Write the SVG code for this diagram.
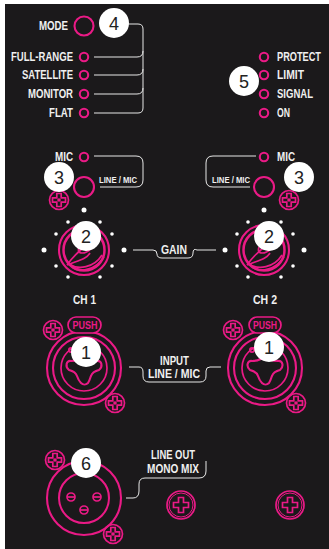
<svg xmlns="http://www.w3.org/2000/svg" xmlns:xlink="http://www.w3.org/1999/xlink" width="329" height="549" viewBox="0 0 329 549">
<style>
.p{fill:none;stroke:#ea1a86;stroke-width:1.7}
.pt{fill:none;stroke:#ea1a86;stroke-width:2.1}
.c{fill:none;stroke:#e8e8e8;stroke-width:1}
.l{font-family:"Liberation Sans",Arial,sans-serif;font-weight:700;font-size:12.5px;fill:#f0f0f0}
.s{font-size:9px}
.bg{fill:#fff}
.n{font-family:"Liberation Sans",Arial,sans-serif;font-size:18px;fill:#222;text-anchor:middle}
.push{font-family:"Liberation Sans",Arial,sans-serif;font-weight:700;font-size:11px;fill:#ea1a86}
.d{fill:#fff}
</style>
<defs>
<g id="screw"><circle r="9.5" class="p"/><path class="p" d="M-2.2-6.5h4.4v4.3h4.3v4.4h-4.3v4.3h-4.4v-4.3h-4.3v-4.4h4.3z"/><circle r="1.8" fill="#ea1a86"/></g>
<g id="bigscrew"><circle r="14" class="p"/><circle r="12" class="p" style="stroke-width:1"/><path class="p" d="M-2.5-7.5h5v5h5v5h-5v5h-5v-5h-5v-5h5z"/></g>
<g id="knob"><circle r="25" class="pt"/><circle r="20.5" class="pt" style="stroke-width:2.5"/><path class="p" d="M-17 15C-10 5-2-2 9-10 11-3 4 3-2 3-6 3-6 0-5-3M-17 15C-8 11 2 10 6 3"/><path class="p" d="M-15 14C-6 20 10 18 18 5M-12 17C-4 23 12 20 20 7"/></g>
<g id="combo"><circle r="37" class="pt"/><circle r="31" class="pt"/><circle r="23" class="p"/><circle cx="-13" cy="-18" r="2.2" class="p"/><path class="pt" d="M0-13C-3-9-8-7-13-7-18-8-19-1-15 2-11 3-8 5-7 8-6 11-5 13-3 15-1 17 2 17 4 15 6 12 6 10 7 8 8 5 11 3 15 2 19-1 18-8 13-7 8-7 3-9 0-13Z"/></g>
</defs>
<rect width="329" height="549" fill="#fff"/>
<rect x="5" y="4" width="324" height="545" fill="#1b191b"/>
<g id="connectors">
<path class="c" d="M128 24H138Q143 24 143 29V108Q143 113 138 113H94"/>
<path class="c" d="M94 57H137Q143 57 143 51M94 75H137Q143 75 143 69M94 94H137Q143 94 143 88"/>
<path class="c" d="M94 156H136Q143 156 143 163V180Q143 187 136 187H100"/>
<path class="c" d="M256 156H213Q206 156 206 163V180Q206 187 213 187H250"/>
<path class="c" d="M133 250H153Q157 250 157 254T162 258H188Q193 258 193 253T197 250H216"/>
<path class="c" d="M129 367H139Q143 367 143 372V376Q143 382 149 382H200Q206 382 206 376V371Q206 367 210 367H221"/>
<path class="c" d="M126 498H133Q139 498 139 491V484Q139 478 145 478H199Q206 478 206 471V461"/>
</g>
<g id="mode"><circle cx="84" cy="26" r="9.5" class="pt"/><text x="39" y="30" class="l" textLength="29" lengthAdjust="spacingAndGlyphs">MODE</text></g>
<g id="led-full-range"><circle cx="84" cy="57" r="4.2" class="pt"/><text x="11" y="61" class="l" textLength="62" lengthAdjust="spacingAndGlyphs">FULL-RANGE</text></g>
<g id="led-satellite"><circle cx="84" cy="75" r="4.2" class="pt"/><text x="22" y="79" class="l" textLength="51" lengthAdjust="spacingAndGlyphs">SATELLITE</text></g>
<g id="led-monitor"><circle cx="84" cy="94" r="4.2" class="pt"/><text x="28" y="98" class="l" textLength="45" lengthAdjust="spacingAndGlyphs">MONITOR</text></g>
<g id="led-flat"><circle cx="84" cy="113" r="4.2" class="pt"/><text x="49" y="117" class="l" textLength="24" lengthAdjust="spacingAndGlyphs">FLAT</text></g>
<g id="led-protect"><circle cx="264" cy="57" r="4.2" class="pt"/><text transform="translate(277 61) scale(.737 1)" class="l">PROTECT</text></g>
<g id="led-limit"><circle cx="264" cy="75" r="4.2" class="pt"/><text x="277" y="79" class="l" textLength="27" lengthAdjust="spacingAndGlyphs">LIMIT</text></g>
<g id="led-signal"><circle cx="264" cy="94" r="4.2" class="pt"/><text x="277" y="98" class="l" textLength="36" lengthAdjust="spacingAndGlyphs">SIGNAL</text></g>
<g id="led-on"><circle cx="264" cy="113" r="4.2" class="pt"/><text x="277" y="117" class="l" textLength="13" lengthAdjust="spacingAndGlyphs">ON</text></g>
<g id="badge-5"><circle cx="244" cy="81" r="15" class="bg"/><text x="244" y="87.5" class="n">5</text></g>
<g id="badge-4"><circle cx="114" cy="23" r="15" class="bg"/><text x="114" y="29.5" class="n">4</text></g>
<g id="mic-1"><circle cx="84" cy="157" r="4.2" class="pt"/><text x="55" y="161" class="l" textLength="18" lengthAdjust="spacingAndGlyphs">MIC</text><circle cx="84" cy="187" r="10" class="pt"/><text x="99" y="183" class="l s" textLength="38" lengthAdjust="spacingAndGlyphs">LINE / MIC</text><use xlink:href="#screw" href="#screw" x="59" y="200"/><circle cx="59" cy="177" r="15" class="bg"/><text x="59" y="183.5" class="n">3</text></g>
<g id="mic-2"><circle cx="264" cy="157" r="4.2" class="pt"/><text x="277" y="161" class="l" textLength="18" lengthAdjust="spacingAndGlyphs">MIC</text><circle cx="264" cy="187" r="10" class="pt"/><text x="212" y="183" class="l s" textLength="38" lengthAdjust="spacingAndGlyphs">LINE / MIC</text><use xlink:href="#screw" href="#screw" x="289" y="200"/><circle cx="299" cy="177" r="15" class="bg"/><text x="299" y="183.5" class="n">3</text></g>
<g id="gain-1">
<use xlink:href="#knob" href="#knob" x="84" y="250"/>
<g class="d"><circle cx="84" cy="210" r="2.5"/><circle cx="44" cy="250" r="2.5"/><circle cx="124" cy="250" r="2.5"/><circle cx="68" cy="222" r="1.8"/><circle cx="100" cy="222" r="1.8"/><circle cx="56" cy="234" r="1.8"/><circle cx="112" cy="234" r="1.8"/><circle cx="56" cy="266" r="1.8"/><circle cx="112" cy="266" r="1.8"/><circle cx="68" cy="277" r="1.8"/><circle cx="100" cy="277" r="1.8"/></g>
<circle cx="86" cy="236" r="15" class="bg"/><text x="86" y="242.5" class="n">2</text><text x="73" y="304" class="l" textLength="23" lengthAdjust="spacingAndGlyphs">CH 1</text></g>
<g id="gain-2">
<use xlink:href="#knob" href="#knob" x="264" y="250"/>
<g class="d"><circle cx="264" cy="210" r="2.5"/><circle cx="225" cy="250" r="2.5"/><circle cx="304" cy="250" r="2.5"/><circle cx="248" cy="222" r="1.8"/><circle cx="281" cy="222" r="1.8"/><circle cx="237" cy="234" r="1.8"/><circle cx="293" cy="234" r="1.8"/><circle cx="237" cy="266" r="1.8"/><circle cx="293" cy="266" r="1.8"/><circle cx="248" cy="277" r="1.8"/><circle cx="281" cy="277" r="1.8"/></g>
<circle cx="269" cy="236" r="15" class="bg"/><text x="269" y="242.5" class="n">2</text><text x="253" y="304" class="l" textLength="24" lengthAdjust="spacingAndGlyphs">CH 2</text></g>
<g id="gain-label"><text x="161" y="254" class="l" textLength="26" lengthAdjust="spacingAndGlyphs">GAIN</text></g>
<g id="input-1"><use xlink:href="#combo" href="#combo" x="84" y="368"/><rect x="68" y="317" width="33" height="16" rx="8" class="p" style="fill:#1b191b"/><text x="72.5" y="329" class="push" textLength="25" lengthAdjust="spacingAndGlyphs">PUSH</text><use xlink:href="#screw" href="#screw" x="53" y="330"/><use xlink:href="#screw" href="#screw" x="115" y="403"/><circle cx="86" cy="352" r="15" class="bg"/><text x="86" y="358.5" class="n">1</text></g>
<g id="input-2"><use xlink:href="#combo" href="#combo" x="265" y="368"/><rect x="249" y="317" width="32" height="16" rx="8" class="p" style="fill:#1b191b"/><text x="253" y="329" class="push" textLength="24" lengthAdjust="spacingAndGlyphs">PUSH</text><use xlink:href="#screw" href="#screw" x="233" y="330"/><use xlink:href="#screw" href="#screw" x="296" y="403"/><circle cx="269" cy="347" r="15" class="bg"/><text x="269" y="353.5" class="n">1</text></g>
<g id="input-label"><text x="160" y="365" class="l" textLength="29" lengthAdjust="spacingAndGlyphs">INPUT</text><text x="148" y="378" class="l" textLength="52" lengthAdjust="spacingAndGlyphs">LINE / MIC</text></g>
<g id="line-out"><circle cx="84" cy="498" r="37" class="pt"/><circle cx="84" cy="498" r="25" class="pt"/>
<g class="p"><circle cx="71" cy="497" r="4"/><path d="M67 497h8"/><circle cx="97" cy="497" r="4"/><path d="M93 497h8"/><circle cx="84" cy="510" r="4"/><path d="M80 510h8"/></g>
<use xlink:href="#screw" href="#screw" x="55" y="460"/><use xlink:href="#screw" href="#screw" x="113" y="534"/><circle cx="86" cy="463" r="15" class="bg"/><text x="86" y="469.5" class="n">6</text></g>
<g id="line-out-label"><text x="151" y="459" class="l" textLength="44" lengthAdjust="spacingAndGlyphs">LINE OUT</text><text x="147" y="473" class="l" textLength="52" lengthAdjust="spacingAndGlyphs">MONO MIX</text></g>
<g id="screw-a"><use xlink:href="#bigscrew" href="#bigscrew" x="181" y="505"/></g>
<g id="screw-b"><use xlink:href="#bigscrew" href="#bigscrew" x="290" y="505"/></g>
</svg>
